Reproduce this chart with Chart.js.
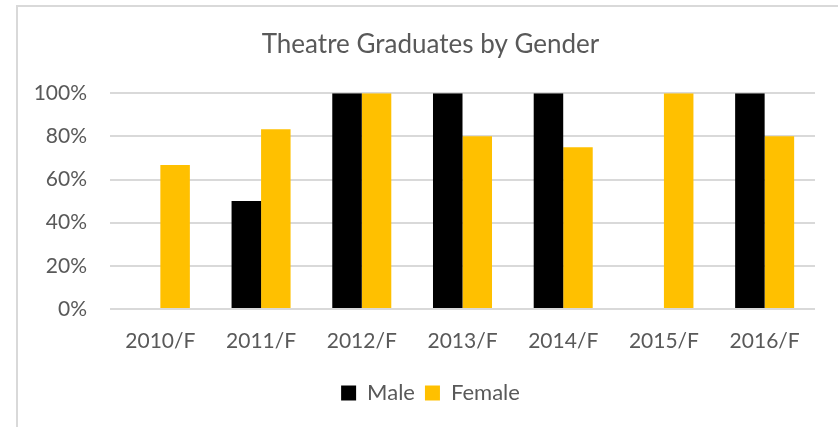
<!DOCTYPE html>
<html>
<head>
<meta charset="utf-8">
<script src="https://cdn.jsdelivr.net/npm/chart.js@4"></script>
<style>
  html, body { margin: 0; padding: 0; background: #fff; overflow: hidden; }
  #frame {
    position: absolute; left: 16px; top: 5px; width: 840px; height: 440px;
    border-left: 2px solid #d9d9d9; border-top: 2px solid #d9d9d9;
  }
  #wrap { position: absolute; left: 0; top: 0; width: 825px; height: 420px; }
</style>
</head>
<body>
<div id="frame"><div id="wrap"><canvas id="chart"></canvas></div></div>
<script>
const categories = ["2010/F", "2011/F", "2012/F", "2013/F", "2014/F", "2015/F", "2016/F"];
const maleValues = [0, 0.5, 1, 1, 1, 0, 1];
const femaleValues = [0.667, 0.833, 1, 0.8, 0.75, 1, 0.8];
const yTicks = [0, 0.2, 0.4, 0.6, 0.8, 1];

const textColor = "#595959";
const fontFamily = "Lato, 'Open Sans', sans-serif";

const ctx = document.getElementById("chart").getContext("2d");

new Chart(ctx, {
  type: "bar",
  data: {
    labels: categories,
    datasets: [
      {
        label: "Male",
        data: maleValues,
        backgroundColor: "#000000",
        barPercentage: 1,
        categoryPercentage: 0.586
      },
      {
        label: "Female",
        data: femaleValues,
        backgroundColor: "#FFC000",
        barPercentage: 1,
        categoryPercentage: 0.586
      }
    ]
  },
  options: {
    responsive: true,
    maintainAspectRatio: false,
    animation: false,
    layout: {
      padding: { left: 0, right: 0, top: 0, bottom: 13 }
    },
    plugins: {
      title: {
        display: true,
        text: "Theatre Graduates by Gender",
        color: textColor,
        font: { family: fontFamily, size: 26, weight: "normal" },
        padding: { top: 22, bottom: 33 }
      },
      legend: {
        position: "bottom",
        labels: {
          color: textColor,
          font: { family: fontFamily, size: 22 },
          boxWidth: 15,
          boxHeight: 15,
          padding: 10
        }
      },
      tooltip: { enabled: false }
    },
    scales: {
      x: {
        grid: { display: false },
        border: { display: false },
        ticks: {
          color: textColor,
          font: { family: fontFamily, size: 21 },
          padding: 12
        },
        afterFit: scale => { scale.height = 63; }
      },
      y: {
        min: 0,
        max: 1,
        border: { display: false },
        grid: { color: "#d9d9d9", lineWidth: 2, drawTicks: false },
        afterBuildTicks: scale => {
          scale.ticks = yTicks.map(v => ({ value: v }));
        },
        ticks: {
          color: textColor,
          font: { family: fontFamily, size: 21 },
          padding: 23,
          callback: v => Math.round(v * 100) + "%"
        },
        afterFit: scale => { scale.width = 92; }
      },
      // empty right-hand box so the title and legend centre where the original does
      spacer: {
        position: "right",
        grid: { display: false },
        border: { display: false },
        ticks: { display: false },
        afterFit: scale => { scale.width = 28; }
      }
    }
  }
});
</script>
</body>
</html>
